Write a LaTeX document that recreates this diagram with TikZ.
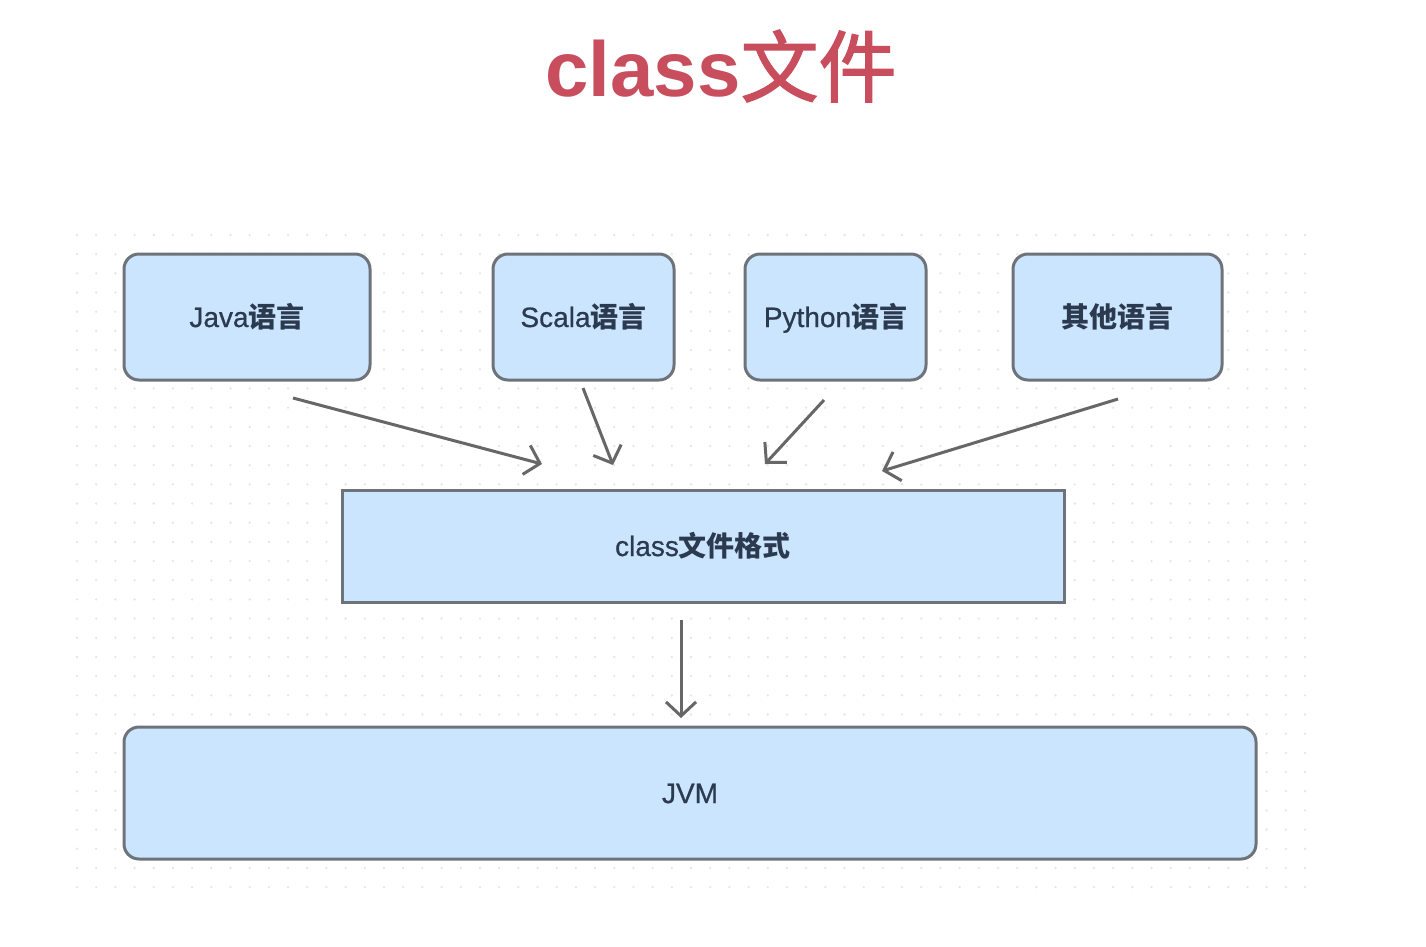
\documentclass[tikz,border=0pt]{standalone}
\usepackage{fontspec}
\setmainfont{Liberation Sans}
\newfontfamily\cjk{Noto Sans CJK SC}
\newfontfamily\cjkt{Noto Sans CJK SC}[FakeBold=1.8]
\newfontfamily\lbl{Liberation Sans}[FakeBold=0.7]
\usetikzlibrary{arrows.meta}
\definecolor{boxfill}{HTML}{CCE5FF}
\definecolor{boxline}{HTML}{6E737A}
\definecolor{txt}{HTML}{2B3A4E}
\definecolor{arrowc}{HTML}{676767}
\definecolor{titlec}{HTML}{C84E5E}
\definecolor{dotc}{HTML}{E6E6E6}
\tikzset{
  lblfont/.style={text=txt, font=\fontsize{28}{30}\selectfont\lbl, text height=24pt, text depth=4pt},
  langbox/.style={draw=boxline, fill=boxfill, line width=3pt, rounded corners=15pt,
    minimum height=126pt, inner sep=0pt, lblfont},
  flatbox/.style={draw=boxline, fill=boxfill, line width=3pt,
    inner sep=0pt, lblfont},
  flow/.style={draw=arrowc, line width=3pt, -{Straight Barb[length=14pt,width=30pt,line width=3pt]}},
}
\begin{document}
\begin{tikzpicture}[x=1pt,y=-1pt]
\useasboundingbox (0,0) rectangle (1426,946);
\fill[white] (0,0) rectangle (1426,946);
% dotted grid
\foreach \i in {0,...,64}{
  \foreach \j in {0,...,34}{
    \fill[dotc] ({77+\i*19.1875},{235+\j*19.18}) circle (1.3pt);
  }
}
% title
\node[text=titlec, font=\fontsize{78}{80}\selectfont, anchor=base] (title) at (721,96)
  {\bfseries class{\mdseries\cjkt 文件}};
% boxes
\node[langbox, minimum width=246pt] (java) at (247,317) {Java{\cjk\bfseries 语言}};
\node[langbox, minimum width=181pt] (scala) at (583.5,317) {Scala{\cjk\bfseries 语言}};
\node[langbox, minimum width=181pt] (python) at (835.5,317) {Python{\cjk\bfseries 语言}};
\node[langbox, minimum width=209pt] (other) at (1117.5,317) {{\cjk\bfseries 其他语言}};
\node[flatbox, minimum width=722pt, minimum height=112pt] (fmt) at (703,546) {class{\cjk\bfseries 文件格式}};
\node[flatbox, rounded corners=15pt, minimum width=1132pt, minimum height=132pt] (jvm) at (690,793) {JVM};
% arrow end points
\coordinate (javaS) at (293,398);
\coordinate (javaE) at (542,464);
\coordinate (scalaS) at (583,388);
\coordinate (scalaE) at (613,465);
\coordinate (pyS) at (824,400);
\coordinate (pyE) at (765,464);
\coordinate (otherS) at (1118,399);
\coordinate (otherE) at (882,471);
\coordinate (fmtS) at (681,620);
\coordinate (jvmE) at (681,718);
\draw[flow] (javaS) -- (javaE);
\draw[flow] (scalaS) -- (scalaE);
\draw[flow] (pyS) -- (pyE);
\draw[flow] (otherS) -- (otherE);
\draw[flow] (fmtS) -- (jvmE);
\end{tikzpicture}
\end{document}
